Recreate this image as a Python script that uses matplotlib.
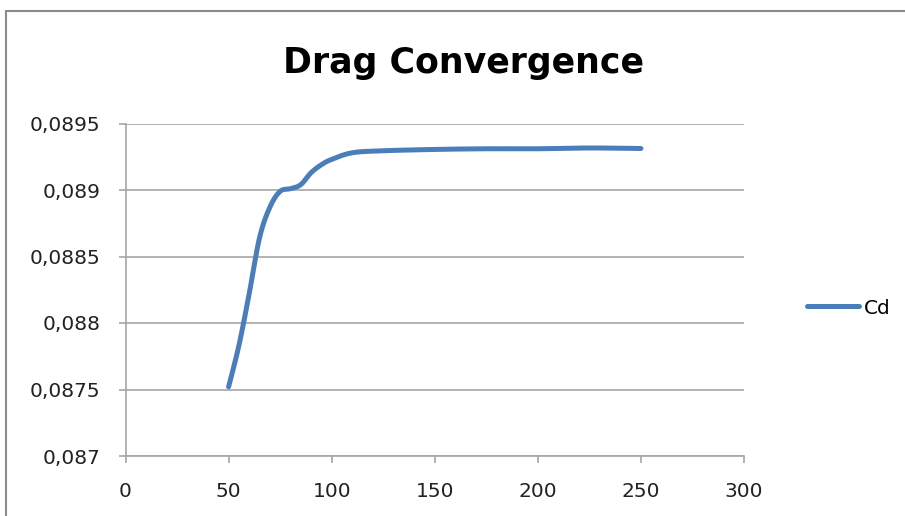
import numpy as np
import matplotlib
matplotlib.use("Agg")
import matplotlib.pyplot as plt
from matplotlib.patches import Rectangle
from matplotlib.ticker import FuncFormatter

# Data
iterations = [50, 55, 60, 65, 70, 75, 80, 85, 90, 95, 100, 110, 125, 150, 175, 200, 225, 250]
cd_values = [0.08752, 0.08783, 0.08822, 0.08864, 0.08887, 0.08899, 0.08901, 0.08904,
             0.08913, 0.08919, 0.08923, 0.08928, 0.089295, 0.089305, 0.08931, 0.08931,
             0.089316, 0.089312]
x_ticks = [0, 50, 100, 150, 200, 250, 300]
y_ticks = [0.087, 0.0875, 0.088, 0.0885, 0.089, 0.0895]
title = "Drag Convergence"
series_name = "Cd"


def excel_smooth(ax, x, y, n=24):
    """Excel-style smoothed line: cubic Bezier with control points P_i +/- (P_{i+1}-P_{i-1})/6
    computed in display space."""
    pts = ax.transData.transform(np.column_stack([x, y]))
    P = np.vstack([pts[0], pts, pts[-1]])
    out = []
    t = np.linspace(0, 1, n, endpoint=False)[:, None]
    for i in range(1, len(P) - 2):
        p0, p3 = P[i], P[i + 1]
        c1 = p0 + (P[i + 1] - P[i - 1]) / 6.0
        c2 = p3 - (P[i + 2] - P[i]) / 6.0
        seg = (1 - t) ** 3 * p0 + 3 * (1 - t) ** 2 * t * c1 + 3 * (1 - t) * t ** 2 * c2 + t ** 3 * p3
        out.append(seg)
    out.append(P[-2][None, :])
    out = np.vstack(out)
    d = ax.transData.inverted().transform(out)
    return d[:, 0], d[:, 1]


fig = plt.figure(figsize=(9.05, 5.16), dpi=100)
fig.patch.set_facecolor("white")
fig.patches.append(Rectangle((6 / 905, -0.1), 1.2, 1.1 - 11 / 516, transform=fig.transFigure,
                             fill=False, edgecolor="#8c8c8c", linewidth=1.5))

ax = fig.add_axes([125.5 / 905, 1 - 456 / 516, (744 - 125.5) / 905, (456 - 123.5) / 516])
ax.set_xlim(0, 300)
ax.set_ylim(0.087, 0.0895)
sx, sy = excel_smooth(ax, iterations, cd_values)
ax.plot(sx, sy, color="#4a7ebb", linewidth=3.6, solid_capstyle="round", label=series_name)

ax.set_xticks(x_ticks)
ax.set_yticks(y_ticks)
ax.yaxis.set_major_formatter(FuncFormatter(lambda v, p: ("%g" % v).replace(".", ",")))
ax.grid(axis="y", color="#a6a6a6", linewidth=1.2)
ax.set_axisbelow(True)
for s in ("top", "right"):
    ax.spines[s].set_visible(False)
for s in ("left", "bottom"):
    ax.spines[s].set_color("#a6a6a6")
    ax.spines[s].set_linewidth(1.2)
ax.tick_params(axis="both", direction="out", length=5, width=1.2, color="#a6a6a6",
               labelsize=14.5, labelcolor="#222222")
ax.tick_params(axis="x", pad=14)
ax.tick_params(axis="y", pad=13)

fig.text(463 / 905, 1 - 63 / 516, title, ha="center", va="center", fontsize=25,
         fontweight="bold")

leg = fig.legend(loc="center left", bbox_to_anchor=(789 / 905, 1 - 308 / 516), frameon=False,
                 fontsize=14.5, handlelength=2.6, handletextpad=0.2)

fig.savefig("out.png", dpi=100, facecolor="white")
